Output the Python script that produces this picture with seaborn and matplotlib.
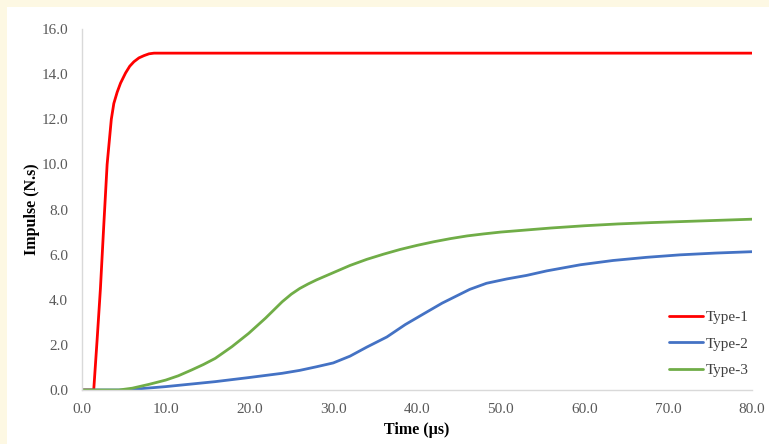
import matplotlib
matplotlib.use("Agg")
import matplotlib.pyplot as plt
import matplotlib.patches as mpatches
import seaborn as sns
import pandas as pd

# ---- data ----
t1 = [0, 1.4, 1.8, 2.2, 2.6, 3.0, 3.5, 3.8, 4.2, 4.6, 5.2, 5.7, 6.2, 6.8, 7.4, 8.0, 8.6, 80]
v1 = [0, 0, 2.2, 4.5, 7.3, 10.0, 12.0, 12.7, 13.2, 13.6, 14.05, 14.35, 14.55, 14.72, 14.82, 14.9, 14.93, 14.93]

t2 = [0, 5.1, 10.0, 15.9, 19.9, 23.9, 26.0, 28.0, 30.0, 32.0, 34.0, 36.4, 38.6, 41.0, 43.0, 45.0, 46.3,
      48.3, 50.7, 53.1, 55.5, 59.5, 63.4, 67.4, 71.4, 75.7, 80]
v2 = [0, 0, 0.15, 0.37, 0.55, 0.74, 0.87, 1.03, 1.2, 1.5, 1.9, 2.35, 2.9, 3.42, 3.85, 4.22, 4.46,
      4.73, 4.92, 5.08, 5.28, 5.55, 5.74, 5.88, 5.99, 6.07, 6.13]

t3 = [0, 4.4, 6.0, 8.0, 10.0, 11.5, 13.1, 14.5, 15.9, 17.9, 19.9, 21.9, 23.9, 25.0, 26.0, 27.0, 28.0,
      30.0, 32.0, 34.0, 36.0, 38.0, 40.0, 42.0, 44.0, 46.0, 48.0, 50.0, 53.0, 56.0, 60.0, 64.0, 68.0,
      72.0, 76.0, 80]
v3 = [0, 0, 0.08, 0.25, 0.44, 0.63, 0.89, 1.13, 1.4, 1.92, 2.51, 3.18, 3.91, 4.25, 4.5, 4.7, 4.88,
      5.2, 5.52, 5.79, 6.02, 6.23, 6.41, 6.57, 6.71, 6.83, 6.92, 7.0, 7.09, 7.18, 7.28, 7.36, 7.42,
      7.47, 7.52, 7.57]

series_names = ["Type-1", "Type-2", "Type-3"]
x_ticks = [0, 10, 20, 30, 40, 50, 60, 70, 80]
y_ticks = [0, 2, 4, 6, 8, 10, 12, 14, 16]

df = pd.concat([
    pd.DataFrame({"Time": t1, "Impulse": v1, "Series": series_names[0]}),
    pd.DataFrame({"Time": t2, "Impulse": v2, "Series": series_names[1]}),
    pd.DataFrame({"Time": t3, "Impulse": v3, "Series": series_names[2]}),
], ignore_index=True)

sns.set_style("white")
plt.rcParams["font.family"] = ["Liberation Serif", "DejaVu Serif"]

W, H = 769, 444
fig = plt.figure(figsize=(W / 100, H / 100), dpi=100)
fig.patch.set_facecolor("#fdf8e3")
bg = mpatches.Rectangle((7 / W, 0), 1, (H - 7) / H, transform=fig.transFigure,
                        facecolor="white", edgecolor="none", zorder=-10)
fig.add_artist(bg)

ax = fig.add_axes([82 / W, (H - 390) / H, (752 - 82) / W, (390 - 29) / H])
ax.set_zorder(5)
ax.set_facecolor("white")

palette = {"Type-1": "#ff0000", "Type-2": "#4472c4", "Type-3": "#70ad47"}
sns.lineplot(data=df, x="Time", y="Impulse", hue="Series", palette=palette,
             linewidth=2.0, ax=ax, estimator=None, sort=False)

ax.set_xlim(0, 80)
ax.set_ylim(0, 16)
ax.set_xticks(x_ticks)
ax.set_yticks(y_ticks)
ax.set_xticklabels([f"{v:.1f}" for v in x_ticks])
ax.set_yticklabels([f"{v:.1f}" for v in y_ticks])

for s in ["top", "right"]:
    ax.spines[s].set_visible(False)
for s in ["left", "bottom"]:
    ax.spines[s].set_color("#d9d9d9")
    ax.spines[s].set_linewidth(1.0)

ax.tick_params(axis="both", which="major", direction="out", length=4, width=1,
               color="#d9d9d9", labelcolor="#595959", labelsize=11)
ax.tick_params(axis="y", pad=6)
ax.tick_params(axis="x", pad=5)

ax.set_xlabel("Time (µs)", fontsize=11.5, fontweight="bold", color="black", labelpad=5)
ax.set_ylabel("Impulse (N.s)", fontsize=11.5, fontweight="bold", color="black", labelpad=1)

leg = ax.legend(loc="lower right", bbox_to_anchor=(0.995, 0.035), frameon=False,
                fontsize=11, handlelength=2.2, handletextpad=0.2, labelspacing=0.85,
                borderpad=0, borderaxespad=0)
for txt in leg.get_texts():
    txt.set_color("#404040")
for line in leg.get_lines():
    line.set_linewidth(2.0)

fig.savefig("out.png", dpi=100, facecolor=fig.get_facecolor())
